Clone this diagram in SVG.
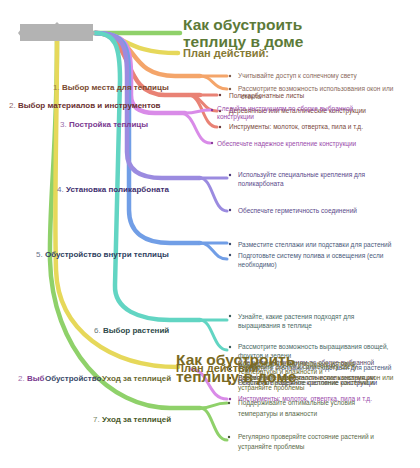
<svg xmlns="http://www.w3.org/2000/svg" width="420" height="468" viewBox="0 0 420 468">
<style>
text{font-family:"Liberation Sans",Arial,sans-serif}
.lbl{font-size:8px;font-weight:bold}
.num{font-size:8px;font-weight:normal;opacity:.75}
.c{font-size:6.5px}
.t{font-size:15.5px;font-weight:bold}
.p{font-size:11px;font-weight:bold}
.l1{fill:none;stroke-width:4.5;stroke-linecap:round}
.l2{fill:none;stroke-width:3;stroke-linecap:round}
</style>
<rect width="420" height="468" fill="#fff"/>
<g id="connectors">
  <path class="l1" stroke="#8fd16a" d="M57,41 C57,150 49,200 50,260 C52,350 110,408 170,408 L200,408"/>
  <path class="l2" stroke="#8fd16a" d="M200,408 C213,408 213,403 227,403"/>
  <path class="l2" stroke="#8fd16a" d="M200,408 C213,408 213,440 227,440"/>
  <path class="l1" stroke="#e6d85a" d="M57,41 C57,120 54,200 56,270 C58,330 110,367 178,367"/>
  <path class="l1" stroke="#8fd16a" d="M93,33 L180,33"/>
  <path class="l1" stroke="#e6d85a" d="M95,33 C125,33 125,53 178,53"/>
  <path class="l1" stroke="#f4a56a" d="M95,33 C140,33 125,76 175,76 L200,76"/>
  <path class="l2" stroke="#f4a56a" d="M200,76 L227,76"/>
  <path class="l2" stroke="#f4a56a" d="M200,76 C213,76 213,89 227,89"/>
  <path class="l1" stroke="#e98275" d="M95,33 C135,33 120,95 165,95 L200,95"/>
  <path class="l2" stroke="#e98275" d="M200,95 L217,95"/>
  <path class="l2" stroke="#e98275" d="M188,95 C203,95 202,111 217,111"/>
  <path class="l2" stroke="#e98275" d="M188,95 C203,95 202,127 217,127"/>
  <path class="l1" stroke="#d98be8" d="M95,33 C126,33 131,45 131,75 L131,95 C131,108 140,113 155,113 L185,113"/>
  <path class="l2" stroke="#d98be8" d="M185,113 C198,113 198,110 210,110"/>
  <path class="l2" stroke="#d98be8" d="M180,113 C196,113 195,143 210,143"/>
  <path class="l1" stroke="#719ee6" d="M95,33 C126,33 129,45 129,80 L129,210 C129,233 145,243 170,243 L200,243"/>
  <path class="l2" stroke="#719ee6" d="M200,243 L227,243"/>
  <path class="l2" stroke="#719ee6" d="M200,243 C213,243 213,259 227,259"/>
  <path class="l1" stroke="#9b8be0" d="M95,33 C123,33 127,45 127,75 L127,152 C127,170 140,178 162,178 L200,178"/>
  <path class="l2" stroke="#9b8be0" d="M200,178 L227,178"/>
  <path class="l2" stroke="#9b8be0" d="M200,178 C213,178 213,211 227,211"/>
  <path class="l1" stroke="#62d5c3" d="M95,33 C115,33 120,45 120,80 L115,285 C114,310 140,320 170,320 L200,320"/>
  <path class="l2" stroke="#62d5c3" d="M200,320 L227,320"/>
  <path class="l2" stroke="#62d5c3" d="M200,320 C213,320 213,350 227,350"/>
  <path class="l2" stroke="#d98be8" d="M190,369 C210,369 207,399 227,399"/>
</g>
<g id="root">
  <polygon points="57,22 60,25 54,25" fill="#b3b3b3"/>
  <polygon points="18,33 21,29 21,37" fill="#b3b3b3"/>
  <polygon points="95,33 92,29 92,37" fill="#b3b3b3"/>
  <rect x="20" y="24" width="73" height="17" fill="#b3b3b3"/>
</g>
<g id="title">
  <text class="t" x="183" y="30" fill="#5c7a38">Как обустроить</text>
  <text class="t" x="183" y="47" fill="#5c7a38">теплицу в доме</text>
</g>
<g id="plan">
  <text class="p" x="183" y="57" fill="#867a36">План действий:</text>
</g>
<g id="b1">
  <text x="53" y="90"><tspan class="num" fill="#8a5a40">1. </tspan><tspan class="lbl" fill="#7a4a30">Выбор места для теплицы</tspan></text>
  <circle cx="230" cy="76" r="1.2" fill="#7a5a4a"/>
  <text class="c" x="238" y="78" fill="#8a6a5c">Учитывайте доступ к солнечному свету</text>
  <circle cx="230" cy="89" r="1.2" fill="#7a5a4a"/>
  <text class="c" x="238" y="91" fill="#8a6a5c">Рассмотрите возможность использования окон или</text>
  <text class="c" x="241" y="99" fill="#8a6a5c">стекла</text>
</g>
<g id="b2">
  <text x="9" y="108"><tspan class="num" fill="#6b3030">2. </tspan><tspan class="lbl" fill="#6b3030">Выбор материалов и инструментов</tspan></text>
  <circle cx="220" cy="95" r="1.2" fill="#6a3a3a"/>
  <text class="c" x="229" y="97.5" fill="#7a4840">Поликарбонатные листы</text>
  <circle cx="220" cy="111" r="1.2" fill="#6a3a3a"/>
  <text class="c" x="229" y="113" fill="#7a4840">Деревянные или металлические конструкции</text>
  <circle cx="220" cy="127" r="1.2" fill="#6a3a3a"/>
  <text class="c" x="229" y="129" fill="#7a4840">Инструменты: молоток, отвертка, пила и т.д.</text>
</g>
<g id="b3">
  <text x="60" y="127"><tspan class="num" fill="#7b3a90">3. </tspan><tspan class="lbl" fill="#7b3a90">Постройка теплицы</tspan></text>
  <circle cx="212" cy="110" r="1.2" fill="#8a3a9a"/>
  <text class="c" x="217" y="110.5" fill="#9a4aaa">Следуйте инструкциям по сборке выбранной</text>
  <text class="c" x="217" y="119" fill="#9a4aaa">конструкции</text>
  <circle cx="212" cy="143" r="1.2" fill="#8a3a9a"/>
  <text class="c" x="217" y="145.5" fill="#9a4aaa">Обеспечьте надежное крепление конструкции</text>
</g>
<g id="b4">
  <text x="57" y="192"><tspan class="num" fill="#3e2f6e">4. </tspan><tspan class="lbl" fill="#3e2f6e">Установка поликарбоната</tspan></text>
  <circle cx="230" cy="175" r="1.2" fill="#4a3a7a"/>
  <text class="c" x="238" y="177" fill="#5a4a8a">Используйте специальные крепления для</text>
  <text class="c" x="238" y="186" fill="#5a4a8a">поликарбоната</text>
  <circle cx="230" cy="210" r="1.2" fill="#4a3a7a"/>
  <text class="c" x="238" y="212.5" fill="#5a4a8a">Обеспечьте герметичность соединений</text>
</g>
<g id="b5">
  <text x="36" y="257"><tspan class="num" fill="#2f3f5f">5. </tspan><tspan class="lbl" fill="#2f3f5f">Обустройство внутри теплицы</tspan></text>
  <circle cx="230" cy="244" r="1.2" fill="#3a4a6a"/>
  <text class="c" x="238" y="246.5" fill="#4a5a7a">Разместите стеллажи или подставки для растений</text>
  <circle cx="230" cy="255" r="1.2" fill="#3a4a6a"/>
  <text class="c" x="238" y="257.5" fill="#4a5a7a">Подготовьте систему полива и освещения (если</text>
  <text class="c" x="238" y="266.5" fill="#4a5a7a">необходимо)</text>
</g>
<g id="b6">
  <text x="94" y="333"><tspan class="num" fill="#2f4a4a">6. </tspan><tspan class="lbl" fill="#2f4a4a">Выбор растений</tspan></text>
  <circle cx="230" cy="316" r="1.2" fill="#3a5a5a"/>
  <text class="c" x="238" y="318.5" fill="#4a6a66">Узнайте, какие растения подходят для</text>
  <text class="c" x="238" y="327.5" fill="#4a6a66">выращивания в теплице</text>
  <circle cx="230" cy="347" r="1.2" fill="#3a5a5a"/>
  <text class="c" x="238" y="349" fill="#4a6a66">Рассмотрите возможность выращивания овощей,</text>
  <text class="c" x="238" y="358" fill="#4a6a66">фруктов и зелени</text>
</g>
<g id="b7">
  <text x="93" y="422"><tspan class="num" fill="#4a5a2a">7. </tspan><tspan class="lbl" fill="#4a5a2a">Уход за теплицей</tspan></text>
  <circle cx="229" cy="403" r="1.2" fill="#4a5a3a"/>
  <text class="c" x="238" y="405" fill="#5a6a4a">Поддерживайте оптимальные условия</text>
  <text class="c" x="238" y="415.5" fill="#5a6a4a">температуры и влажности</text>
  <circle cx="229" cy="437" r="1.2" fill="#4a5a3a"/>
  <text class="c" x="238" y="439" fill="#5a6a4a">Регулярно проверяйте состояние растений и</text>
  <text class="c" x="238" y="448.5" fill="#5a6a4a">устраняйте проблемы</text>
</g>
<g id="overlap">
  <text x="18" y="381"><tspan class="num" fill="#7b3a90">2. </tspan><tspan class="lbl" fill="#7b3a90">Выб</tspan></text>
  <text class="lbl" x="45" y="381" fill="#3a4a6a">Обустройство</text>
  <text x="93" y="381"><tspan class="num" fill="#6a6a30">7. </tspan><tspan class="lbl" fill="#6a6a30">Уход за теплицей</tspan></text>
  <circle cx="230" cy="365" r="1.2" fill="#4a4a2a"/>
  <text class="c" x="238" y="365" fill="#5a4a6a">Следуйте инструкциям по сборке выбранной</text>
  <text class="c" x="238" y="365.5" fill="#6a6a30">Поддерживайте оптимальные условия</text>
  <circle cx="230" cy="369" r="1.2" fill="#4a4a2a"/>
  <text class="c" x="238" y="369.5" fill="#4a5a7a">Разместите стеллажи или подставки для растений</text>
  <text class="c" x="238" y="369" fill="#6a6a30">Учитывайте доступ к солнечному свету</text>
  <text class="c" x="238" y="374" fill="#6a6a30">температуры и влажности и</text>
  <circle cx="230" cy="378" r="1.2" fill="#4a4a2a"/>
  <text class="c" x="238" y="380" fill="#6a6a30">Рассмотрите возможность использования окон или</text>
  <text class="c" x="238" y="379.5" fill="#5a4a40">Деревянные или металлические конструкции</text>
  <circle cx="230" cy="383" r="1.2" fill="#3a3a7a"/>
  <text class="c" x="238" y="385" fill="#3a3a7a">Обеспечьте надежное крепление конструкции</text>
  <text class="c" x="238" y="384.5" fill="#6a6a30">Регулярно проверяйте состояние растений и</text>
  <text class="c" x="238" y="390" fill="#6a6a30">устраняйте проблемы</text>
  <circle cx="230" cy="399" r="1.2" fill="#8a3a9a"/>
  <text class="c" x="238" y="401" fill="#9a4aaa">Инструменты: молоток, отвертка, пила и т.д.</text>
  <text class="t" x="176" y="365" fill="#7a6a24">Как обустроить</text>
  <text class="p" x="176" y="372" fill="#7a6a24">План действий:</text>
  <text class="t" x="176" y="382" fill="#7a6a24">теплицу в доме</text>
</g>
</svg>
